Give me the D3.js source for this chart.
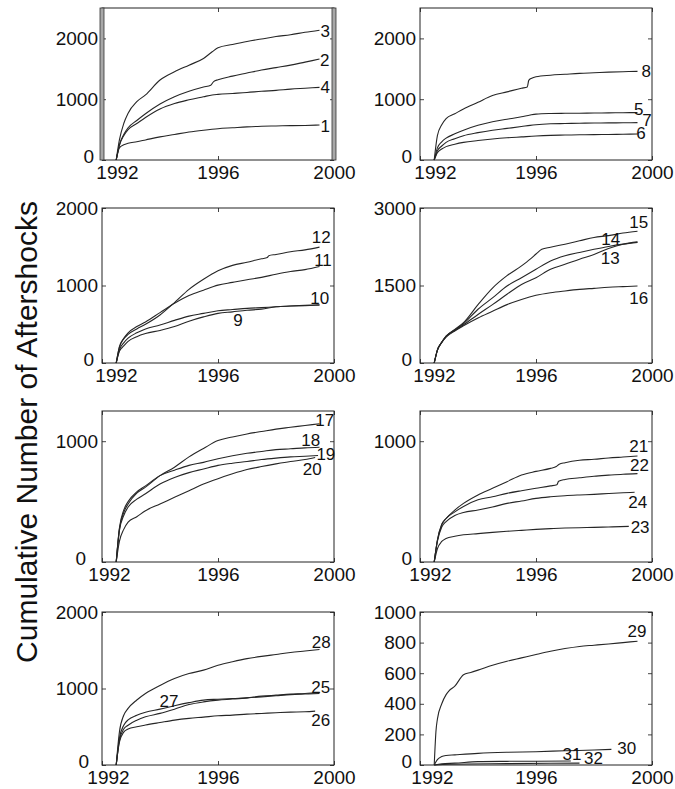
<!DOCTYPE html>
<html>
<head>
<meta charset="utf-8">
<title>Cumulative Number of Aftershocks</title>
<style>
  html, body { margin: 0; padding: 0; background: #fff; }
  svg { display: block; font-family: "Liberation Sans", Arial, Helvetica, sans-serif; }
  .tick text { font-size: 19px; fill: #111; }
  .tick line { stroke: #444; }
  .curve { fill: none; stroke: #262626; stroke-width: 1.1; }
  .frame { fill: none; stroke: #222; stroke-width: 1; }
  .frame-thick { fill: #a8a8a8; stroke: #333; stroke-width: 0.8; }
  .curve-label { font-size: 17px; fill: #111; text-anchor: middle; }
  .y-title { font-size: 30px; fill: #111; text-anchor: middle; }
</style>
<script src="https://cdn.jsdelivr.net/npm/d3@7"></script>
</head>
<body>
<div id="chart"></div>
<script>
// cumulative aftershock counts as [year, count]
var YEAR_TICKS = [1992, 1996, 2000];
var Y_MAX = [2500, 2500, 2000, 3000, 1250, 1250, 2000, 1000];
var Y_TICKS = [
  [0, 1000, 2000], [0, 1000, 2000],
  [0, 1000, 2000], [0, 1500, 3000],
  [0, 1000], [0, 1000],
  [0, 1000, 2000], [0, 200, 400, 600, 800, 1000]
];
var PANEL_CURVES = [
  [1, 2, 3, 4], [5, 6, 7, 8],
  [9, 10, 11, 12], [13, 14, 15, 16],
  [17, 18, 19, 20], [21, 22, 23, 24],
  [25, 26, 27, 28], [29, 30, 31, 32]
];

var S1 = [[1992.49, 0], [1992.6, 200], [1992.75, 250], [1992.9, 275], [1993.2, 300], [1993.5, 330], [1994, 380], [1994.5, 420], [1995, 460], [1995.5, 490], [1996, 515], [1996.5, 530], [1997, 545], [1997.5, 555], [1998, 560], [1998.5, 565], [1999, 568], [1999.5, 575]];
var S2 = [[1992.49, 0], [1992.6, 250], [1992.75, 420], [1992.9, 530], [1993.2, 650], [1993.5, 760], [1994, 920], [1994.5, 1040], [1995, 1130], [1995.5, 1200], [1995.75, 1230], [1995.85, 1290], [1996, 1320], [1996.5, 1380], [1997, 1430], [1997.5, 1480], [1998, 1520], [1998.5, 1560], [1999, 1610], [1999.5, 1660]];
var S3 = [[1992.49, 0], [1992.6, 330], [1992.75, 600], [1992.9, 770], [1993.2, 960], [1993.5, 1070], [1994, 1315], [1994.5, 1450], [1995, 1560], [1995.5, 1670], [1995.8, 1780], [1996, 1845], [1996.5, 1900], [1997, 1950], [1997.5, 1990], [1998, 2030], [1998.5, 2060], [1999, 2100], [1999.5, 2135]];
var S4 = [[1992.49, 0], [1992.6, 240], [1992.75, 400], [1992.9, 500], [1993.2, 600], [1993.5, 700], [1994, 840], [1994.5, 930], [1995, 990], [1995.5, 1040], [1995.8, 1070], [1996, 1080], [1996.5, 1095], [1997, 1110], [1997.5, 1130], [1998, 1145], [1998.5, 1165], [1999, 1180], [1999.5, 1195]];
var S5 = [[1992.49, 0], [1992.6, 200], [1992.75, 300], [1992.9, 360], [1993.2, 430], [1993.5, 490], [1994, 570], [1994.5, 630], [1995, 670], [1995.5, 710], [1995.8, 740], [1996, 755], [1996.5, 765], [1997, 768], [1997.5, 770], [1998, 772], [1998.5, 775], [1999, 778], [1999.5, 780]];
var S6 = [[1992.49, 0], [1992.6, 120], [1992.75, 180], [1992.9, 220], [1993.2, 260], [1993.5, 290], [1994, 320], [1994.5, 345], [1995, 365], [1995.5, 380], [1996, 395], [1996.5, 405], [1997, 410], [1997.5, 415], [1998, 418], [1998.5, 420], [1999, 424], [1999.5, 428]];
var S7 = [[1992.49, 0], [1992.6, 150], [1992.75, 230], [1992.9, 290], [1993.2, 350], [1993.5, 400], [1994, 450], [1994.5, 490], [1995, 520], [1995.5, 550], [1995.8, 570], [1996, 580], [1996.5, 595], [1997, 600], [1997.5, 605], [1998, 608], [1998.5, 610], [1999, 612], [1999.5, 615]];
var S8 = [[1992.49, 0], [1992.6, 400], [1992.75, 580], [1992.9, 680], [1993.2, 760], [1993.5, 840], [1994, 950], [1994.5, 1060], [1995, 1120], [1995.5, 1180], [1995.7, 1200], [1995.75, 1310], [1995.85, 1345], [1996, 1370], [1996.5, 1395], [1997, 1410], [1997.5, 1425], [1998, 1435], [1998.5, 1445], [1999, 1452], [1999.5, 1458]];
var S9 = [[1992.49, 0], [1992.6, 150], [1992.75, 220], [1992.9, 280], [1993.2, 340], [1993.5, 380], [1994, 420], [1994.5, 470], [1995, 540], [1995.5, 595], [1996, 640], [1996.5, 660], [1997, 680], [1997.5, 695], [1998, 725], [1998.5, 735], [1999, 743], [1999.5, 752]];
var S10 = [[1992.49, 0], [1992.6, 170], [1992.75, 260], [1992.9, 320], [1993.2, 390], [1993.5, 440], [1994, 490], [1994.5, 550], [1995, 605], [1995.5, 640], [1996, 675], [1996.5, 690], [1997, 705], [1997.5, 715], [1998, 725], [1998.5, 735], [1999, 740], [1999.5, 747]];
var S11 = [[1992.49, 0], [1992.6, 210], [1992.75, 320], [1992.9, 390], [1993.2, 470], [1993.5, 530], [1994, 650], [1994.5, 770], [1995, 870], [1995.5, 940], [1996, 1005], [1996.5, 1040], [1997, 1075], [1997.5, 1105], [1998, 1145], [1998.5, 1180], [1999, 1205], [1999.5, 1245]];
var S12 = [[1992.49, 0], [1992.6, 200], [1992.75, 310], [1992.9, 370], [1993.2, 440], [1993.5, 500], [1994, 620], [1994.5, 780], [1995, 950], [1995.5, 1080], [1996, 1190], [1996.5, 1260], [1997, 1300], [1997.5, 1345], [1997.7, 1360], [1997.75, 1385], [1998, 1400], [1998.5, 1435], [1999, 1460], [1999.5, 1495]];
var S13 = [[1992.49, 0], [1992.6, 250], [1992.75, 400], [1992.9, 510], [1993.2, 630], [1993.5, 740], [1994, 940], [1994.5, 1130], [1995, 1330], [1995.5, 1520], [1996, 1650], [1996.5, 1815], [1997, 1910], [1997.5, 2010], [1998, 2100], [1998.5, 2215], [1999, 2300], [1999.5, 2345]];
var S14 = [[1992.49, 0], [1992.6, 250], [1992.75, 400], [1992.9, 520], [1993.2, 640], [1993.5, 760], [1994, 1040], [1994.5, 1260], [1995, 1490], [1995.5, 1650], [1996, 1815], [1996.5, 1975], [1997, 2075], [1997.5, 2140], [1998, 2200], [1998.5, 2255], [1999, 2300], [1999.5, 2335]];
var S15 = [[1992.49, 0], [1992.6, 250], [1992.75, 400], [1992.9, 520], [1993.2, 650], [1993.5, 780], [1994, 1130], [1994.5, 1450], [1995, 1690], [1995.5, 1880], [1995.8, 2010], [1996, 2110], [1996.2, 2200], [1996.5, 2240], [1997, 2300], [1997.5, 2365], [1998, 2430], [1998.5, 2465], [1999, 2515], [1999.5, 2550]];
var S16 = [[1992.49, 0], [1992.6, 250], [1992.75, 400], [1992.9, 500], [1993.2, 620], [1993.5, 720], [1994, 870], [1994.5, 1000], [1995, 1130], [1995.5, 1230], [1996, 1310], [1996.5, 1360], [1997, 1395], [1997.5, 1425], [1998, 1445], [1998.5, 1465], [1999, 1478], [1999.5, 1490]];
var S17 = [[1992.49, 0], [1992.6, 270], [1992.75, 410], [1992.9, 480], [1993.2, 570], [1993.5, 620], [1994, 715], [1994.5, 785], [1995, 870], [1995.5, 940], [1996, 1005], [1996.5, 1035], [1997, 1060], [1997.5, 1080], [1998, 1100], [1998.5, 1115], [1999, 1130], [1999.5, 1145]];
var S18 = [[1992.49, 0], [1992.6, 280], [1992.75, 430], [1992.9, 500], [1993.2, 580], [1993.5, 630], [1994, 715], [1994.5, 760], [1995, 800], [1995.5, 825], [1996, 855], [1996.5, 880], [1997, 900], [1997.5, 915], [1998, 930], [1998.5, 937], [1999, 945], [1999.5, 950]];
var S19 = [[1992.49, 0], [1992.6, 260], [1992.75, 385], [1992.9, 455], [1993.2, 520], [1993.5, 565], [1994, 645], [1994.5, 700], [1995, 740], [1995.5, 770], [1996, 800], [1996.5, 818], [1997, 832], [1997.5, 848], [1998, 860], [1998.5, 870], [1999, 876], [1999.45, 882]];
var S20 = [[1992.49, 0], [1992.6, 170], [1992.75, 270], [1992.9, 330], [1993.2, 375], [1993.5, 425], [1994, 480], [1994.5, 535], [1995, 590], [1995.5, 645], [1996, 690], [1996.5, 730], [1997, 765], [1997.5, 790], [1998, 812], [1998.5, 832], [1999, 848], [1999.35, 865]];
var S21 = [[1992.49, 0], [1992.6, 180], [1992.75, 310], [1992.9, 360], [1993.2, 430], [1993.5, 485], [1994, 555], [1994.5, 610], [1995, 665], [1995.5, 720], [1996, 750], [1996.5, 775], [1996.7, 790], [1996.8, 810], [1997, 822], [1997.5, 842], [1998, 850], [1998.5, 861], [1999, 869], [1999.5, 877]];
var S22 = [[1992.49, 0], [1992.6, 180], [1992.75, 310], [1992.9, 360], [1993.2, 415], [1993.5, 460], [1994, 515], [1994.5, 540], [1995, 568], [1995.5, 590], [1996, 610], [1996.5, 630], [1996.72, 640], [1996.78, 668], [1997, 683], [1997.5, 697], [1998, 710], [1998.5, 719], [1999, 727], [1999.5, 732]];
var S23 = [[1992.49, 0], [1992.6, 110], [1992.75, 170], [1992.9, 195], [1993.2, 213], [1993.5, 225], [1994, 235], [1994.5, 245], [1995, 254], [1995.5, 262], [1996, 270], [1996.5, 276], [1997, 281], [1997.5, 284], [1998, 287], [1998.5, 290], [1999.2, 295]];
var S24 = [[1992.49, 0], [1992.6, 170], [1992.75, 290], [1992.9, 335], [1993.2, 385], [1993.5, 410], [1994, 430], [1994.5, 455], [1995, 485], [1995.5, 505], [1996, 527], [1996.5, 540], [1997, 549], [1997.5, 555], [1998, 560], [1998.5, 567], [1999, 573], [1999.4, 577]];
var S25 = [[1992.49, 0], [1992.6, 320], [1992.75, 470], [1992.9, 520], [1993.2, 585], [1993.5, 630], [1994, 675], [1994.5, 730], [1995, 790], [1995.5, 825], [1996, 848], [1996.5, 862], [1997, 878], [1997.5, 900], [1998, 913], [1998.5, 926], [1999, 935], [1999.5, 948]];
var S26 = [[1992.49, 0], [1992.6, 300], [1992.75, 430], [1992.9, 470], [1993.2, 500], [1993.5, 522], [1994, 555], [1994.5, 587], [1995, 610], [1995.5, 626], [1996, 643], [1996.5, 652], [1997, 665], [1997.5, 674], [1998, 683], [1998.5, 691], [1999, 696], [1999.35, 704]];
var S27 = [[1992.49, 0], [1992.6, 350], [1992.75, 520], [1992.9, 590], [1993.2, 650], [1993.5, 690], [1994, 730], [1994.5, 775], [1995, 815], [1995.5, 848], [1996, 860], [1996.5, 870], [1997, 878], [1997.5, 890], [1998, 905], [1998.5, 920], [1999, 928], [1999.5, 935]];
var S28 = [[1992.49, 0], [1992.6, 430], [1992.75, 650], [1992.9, 740], [1993.2, 850], [1993.5, 935], [1994, 1040], [1994.5, 1130], [1995, 1195], [1995.5, 1240], [1996, 1305], [1996.5, 1350], [1997, 1390], [1997.5, 1420], [1998, 1445], [1998.5, 1470], [1999, 1490], [1999.5, 1510]];
var S29 = [[1992.49, 0], [1992.52, 120], [1992.55, 220], [1992.6, 300], [1992.75, 400], [1992.9, 460], [1993, 485], [1993.2, 515], [1993.5, 590], [1993.75, 605], [1994, 620], [1994.5, 652], [1995, 678], [1995.5, 700], [1996, 722], [1996.5, 743], [1997, 761], [1997.5, 775], [1998, 783], [1998.5, 791], [1999, 800], [1999.5, 809]];
var S30 = [[1992.49, 0], [1992.6, 35], [1992.75, 55], [1992.9, 62], [1993.2, 66], [1994, 76], [1995, 83], [1996, 87], [1997, 93], [1998, 98], [1998.6, 102]];
var S31 = [[1992.49, 0], [1992.75, 8], [1993.2, 12], [1994, 22], [1995, 24], [1996, 25], [1997.2, 26]];
var S32 = [[1992.49, 0], [1993, 5], [1995, 9], [1997.5, 12]];

var SERIES = [null, S1, S2, S3, S4, S5, S6, S7, S8, S9, S10, S11, S12, S13, S14, S15, S16,
  S17, S18, S19, S20, S21, S22, S23, S24, S25, S26, S27, S28, S29, S30, S31, S32];

// curve numbers, anchored in data units [panel, text, year, count]
var LABELS = [
  [0, '3', 1999.7, 2126], [0, '2', 1999.68, 1644], [0, '4', 1999.7, 1195], [0, '1', 1999.7, 559],
  [1, '8', 1999.8, 1468], [1, '5', 1999.54, 833], [1, '7', 1999.83, 668], [1, '6', 1999.62, 438],
  [2, '12', 1999.56, 1624], [2, '11', 1999.62, 1330], [2, '10', 1999.51, 834], [2, '9', 1996.69, 553],
  [3, '15', 1999.54, 2722], [3, '14', 1998.58, 2398], [3, '13', 1998.56, 2041], [3, '16', 1999.54, 1264],
  [4, '17', 1999.68, 1175], [4, '18', 1999.2, 1014], [4, '19', 1999.72, 898], [4, '20', 1999.25, 768],
  [5, '21', 1999.54, 964], [5, '22', 1999.57, 806], [5, '24', 1999.51, 495], [5, '23', 1999.59, 287],
  [6, '28', 1999.56, 1609], [6, '27', 1994.31, 835], [6, '25', 1999.54, 1022], [6, '26', 1999.54, 587],
  [7, '29', 1999.48, 874], [7, '30', 1999.13, 113], [7, '31', 1997.24, 72], [7, '32', 1997.98, 48]
];

(function () {
  'use strict';

  var WIDTH = 675;
  var HEIGHT = 789;
  var COL_X = [102, 420];
  var PANEL_W = 232;
  var ROW_Y = [8, 208, 411, 612];
  var ROW_H = [152, 155, 151, 153];
  // the scan places the "1992" and "0" labels a little off their ticks
  var SHIFT_1992 = [15, 15, 14, 14, 7, 10, 6, 12];
  var SHIFT_ZERO = [-4, -4, -4, -4, -12, -4, -9, -4];
  var TICK = 4;

  var svg = d3.select('#chart').append('svg')
    .attr('width', WIDTH)
    .attr('height', HEIGHT);

  PANEL_CURVES.forEach(function (ids, p) {
    var row = Math.floor(p / 2);
    var col = p % 2;
    var h = ROW_H[row];

    var x = d3.scaleLinear().domain([1992, 2000]).range([0, PANEL_W]);
    var y = d3.scaleLinear().domain([0, Y_MAX[p]]).range([h, 0]);

    var g = svg.append('g')
      .attr('transform', 'translate(' + COL_X[col] + ',' + ROW_Y[row] + ')');

    // inward ticks on all four sides, MATLAB box style
    g.append('g')
      .attr('transform', 'translate(0,' + h + ')')
      .call(d3.axisBottom(x).tickValues(YEAR_TICKS).tickFormat(d3.format('d'))
        .tickSizeInner(-TICK).tickSizeOuter(0).tickPadding(6))
      .call(function (a) {
        a.select('.domain').remove();
        a.selectAll('.tick text').attr('font-family', null).attr('font-size', null)
          .attr('dx', function (d) { return d === 1992 ? SHIFT_1992[p] : 0; });
      });

    g.append('g')
      .call(d3.axisTop(x).tickValues(YEAR_TICKS).tickFormat('')
        .tickSizeInner(-TICK).tickSizeOuter(0))
      .call(function (a) { a.select('.domain').remove(); });

    g.append('g')
      .call(d3.axisLeft(y).tickValues(Y_TICKS[p]).tickFormat(d3.format('d'))
        .tickSizeInner(-TICK).tickSizeOuter(0).tickPadding(4))
      .call(function (a) {
        a.select('.domain').remove();
        a.selectAll('.tick text').attr('font-family', null).attr('font-size', null);
        a.selectAll('.tick text').filter(function (d) { return d === 0; })
          .attr('dx', SHIFT_ZERO[p])
          .attr('y', -4);
      });

    g.append('g')
      .attr('transform', 'translate(' + PANEL_W + ',0)')
      .call(d3.axisRight(y).tickValues(Y_TICKS[p]).tickFormat('')
        .tickSizeInner(-TICK).tickSizeOuter(0))
      .call(function (a) { a.select('.domain').remove(); });

    var line = d3.line()
      .x(function (d) { return x(d[0]); })
      .y(function (d) { return y(d[1]); })
      .curve(d3.curveMonotoneX);

    g.selectAll('path.curve')
      .data(ids)
      .enter()
      .append('path')
      .attr('class', 'curve')
      .attr('d', function (id) { return line(SERIES[id]); });

    g.append('rect')
      .attr('class', 'frame')
      .attr('width', PANEL_W)
      .attr('height', h);

    // the first panel has doubled side rules in the scan
    if (p === 0) {
      [0, PANEL_W].forEach(function (sx) {
        g.append('rect')
          .attr('class', 'frame-thick')
          .attr('x', sx - 2)
          .attr('width', 4)
          .attr('height', h);
      });
    }

    g.selectAll('text.curve-label')
      .data(LABELS.filter(function (l) { return l[0] === p; }))
      .enter()
      .append('text')
      .attr('class', 'curve-label')
      .attr('x', function (l) { return x(l[2]); })
      .attr('y', function (l) { return y(l[3]); })
      .attr('dy', '0.36em')
      .text(function (l) { return l[1]; });
  });

  svg.append('text')
    .attr('class', 'y-title')
    .attr('transform', 'translate(37,432) rotate(-90)')
    .text('Cumulative Number of Aftershocks');
})();
</script>
</body>
</html>
